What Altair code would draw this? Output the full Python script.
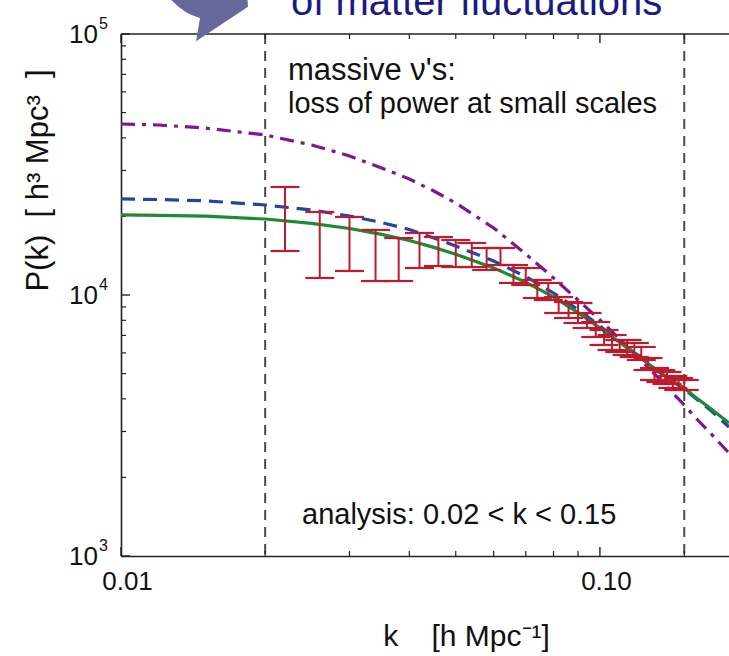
import altair as alt
import pandas as pd

# ---------------- data ----------------
k_model = [0.01, 0.012, 0.015, 0.02, 0.025, 0.03, 0.035, 0.04, 0.045, 0.05, 0.06, 0.07,
           0.08, 0.09, 0.1, 0.11, 0.12, 0.13, 0.14, 0.15, 0.16, 0.17, 0.186]
p_massless = [20260, 20170, 20040, 19550, 18820, 17980, 17070, 16170, 15220, 14330, 12700, 11190,
              9830, 8560, 7475, 6577, 5858, 5224, 4759, 4403, 3999, 3684, 3232]
p_dashed = [23330, 23220, 22960, 22120, 21170, 20080, 18960, 17820, 16530, 15410, 13500, 11770,
            10180, 8800, 7606, 6635, 5889, 5229, 4746, 4364, 3960, 3625, 3121]
p_dashdot = [45200, 44800, 43630, 41020, 37560, 34100, 30660, 27830, 25030, 22510, 18060, 14360,
             11620, 9567, 8022, 6782, 5787, 4982, 4325, 3789, 3319, 2960, 2481]

k_data = [0.022, 0.026, 0.030, 0.034, 0.038, 0.042, 0.046, 0.050, 0.054, 0.058, 0.062,
          0.066, 0.070, 0.074, 0.078, 0.082, 0.086, 0.090, 0.094, 0.098, 0.102, 0.106,
          0.110, 0.114, 0.118, 0.122, 0.126, 0.130, 0.134, 0.138, 0.142, 0.146, 0.150]
p_hi = [25930, 20800, 19910, 17750, 16530, 17280, 16680, 16240, 15820, 15140, 15140,
        13030, 12690, 11420, 11120, 9824, 9402, 9318, 8531, 7880, 7343, 7026,
        6723, 6723, 6548, 6322, 5735, 5252, 5159, 5070, 4895, 4808, 4725]
p_lo = [14740, 11620, 12360, 11310, 11310, 12690, 12910, 12800, 12800, 12470, 13030,
        11120, 10920, 9739, 9567, 8531, 8164, 7810, 7475, 6905, 6433, 6156,
        6048, 5889, 5787, 5636, 5159, 4725, 4642, 4560, 4403, 4325, 4325]

k_cuts = [0.02, 0.15]

x_major = [0.01, 0.1]
x_major_labels = ["0.01", "0.10"]
x_minor = [0.02, 0.03, 0.04, 0.05, 0.06, 0.07, 0.08, 0.09, 0.15]
y_major = [1000, 10000, 100000]
y_major_exp = ["3", "4", "5"]
y_minor = [2000, 3000, 4000, 5000, 6000, 7000, 8000, 9000,
           20000, 30000, 40000, 50000, 60000, 70000, 80000, 90000]

FONT = "Liberation Sans"
AX = "#222222"
TXT = "#111111"
NB = "\u00a0"

# ---------------- scales / encodings ----------------
xs = alt.Scale(type="log", domain=[0.01, 0.186], nice=False)
ys = alt.Scale(type="log", domain=[1000, 100000], nice=False)

x_axis = alt.Axis(values=x_major, labelExpr="datum.value < 0.05 ? '0.01' : '0.10'",
                  labelFontSize=26, labelFont=FONT, labelColor=TXT, labelOffset=6,
                  labelFlush=False, labelOverlap=False,
                  labelPadding=12, ticks=False, grid=False, domain=True, domainColor=AX,
                  domainWidth=1.6, title="k" + NB * 4 + "[h Mpc\u207b\u00b9]", titleFont=FONT,
                  titleFontSize=30, titleFontWeight="normal", titleColor=TXT,
                  titleX=345, titleY=89, titleAlign="center", titleBaseline="alphabetic")
y_axis = alt.Axis(values=y_major, labels=False, ticks=False, grid=False, domain=True,
                  domainColor=AX, domainWidth=1.6,
                  title="P(k)" + NB + " [" + NB + "h\u00b3" + NB + "Mpc\u00b3" + NB + NB + "]",
                  titleFont=FONT, titleFontSize=31,
                  titleFontWeight="normal", titleColor=TXT, titleAngle=270,
                  titleX=-83, titleY=146, titleAlign="center", titleBaseline="middle")


def X(f):
    return alt.X(f"{f}:Q", scale=xs, axis=x_axis)


def Y(f):
    return alt.Y(f"{f}:Q", scale=ys, axis=y_axis)


df_models = pd.DataFrame({"k": k_model, "m0": p_massless, "m1": p_dashed, "m2": p_dashdot})
df_data = pd.DataFrame({"k": k_data, "hi": p_hi, "lo": p_lo})
df_cuts = pd.DataFrame({"k": k_cuts})
df_ymaj = pd.DataFrame({"P": y_major, "e": y_major_exp})
df_ymin = pd.DataFrame({"P": y_minor})
df_xmaj = pd.DataFrame({"k": x_major})
df_xmin = pd.DataFrame({"k": x_minor})
one = df_cuts.head(1)

# ---------------- layers ----------------
cuts = alt.Chart(df_cuts).mark_rule(color="#4a4a4a", strokeWidth=2, strokeDash=[10, 7]).encode(
    x=X("k"), y=alt.value(0), y2=alt.value(522))

top_line = alt.Chart(one).mark_rule(color=AX, strokeWidth=1.6).encode(
    x=alt.value(0), x2=alt.value(608), y=alt.value(0))

ytick_min = alt.Chart(df_ymin).mark_rule(color=AX, strokeWidth=1.2).encode(
    y=Y("P"), x=alt.value(0), x2=alt.value(5))
ytick_maj = alt.Chart(df_ymaj).mark_rule(color=AX, strokeWidth=1.4).encode(
    y=Y("P"), x=alt.value(0), x2=alt.value(9))
xtick_min_b = alt.Chart(df_xmin).mark_rule(color=AX, strokeWidth=1.2).encode(
    x=X("k"), y=alt.value(522), y2=alt.value(517))
xtick_maj_b = alt.Chart(df_xmaj).mark_rule(color=AX, strokeWidth=1.4).encode(
    x=X("k"), y=alt.value(522), y2=alt.value(513))
xtick_min_t = alt.Chart(df_xmin).mark_rule(color=AX, strokeWidth=1.2).encode(
    x=X("k"), y=alt.value(0), y2=alt.value(5))
xtick_maj_t = alt.Chart(df_xmaj).mark_rule(color=AX, strokeWidth=1.4).encode(
    x=X("k"), y=alt.value(0), y2=alt.value(9))

ylab = alt.Chart(df_ymaj).mark_text(font=FONT, fontSize=26, color=TXT, align="right",
                                    baseline="middle", dy=1).encode(
    y=Y("P"), x=alt.value(-23), text=alt.value("10"))
yexp = alt.Chart(df_ymaj).mark_text(font=FONT, fontSize=16, color=TXT, align="left",
                                    baseline="middle", dy=-10).encode(
    y=Y("P"), x=alt.value(-22), text="e:N")

line_dd = alt.Chart(df_models).mark_line(color="#7b1a8c", strokeWidth=3.2,
                                         strokeDash=[14, 7, 4, 7], clip=True).encode(
    x=X("k"), y=Y("m2"))
line_d = alt.Chart(df_models).mark_line(color="#2545a5", strokeWidth=3.2,
                                        strokeDash=[14, 8], clip=True).encode(
    x=X("k"), y=Y("m1"))
line_s = alt.Chart(df_models).mark_line(color="#1f8a35", strokeWidth=3.2, clip=True).encode(
    x=X("k"), y=Y("m0"))

RED = "#bf1a2e"
err_v = alt.Chart(df_data).mark_rule(color=RED, strokeWidth=2).encode(
    x=X("k"), y=Y("hi"), y2="lo:Q")
cap_shape = "M-1,0L1,0"
cap_hi = alt.Chart(df_data).mark_point(shape=cap_shape, size=841, color=RED, strokeWidth=2.2,
                                       filled=False, opacity=1).encode(x=X("k"), y=Y("hi"))
cap_lo = alt.Chart(df_data).mark_point(shape=cap_shape, size=841, color=RED, strokeWidth=2.2,
                                       filled=False, opacity=1).encode(x=X("k"), y=Y("lo"))

ann1 = alt.Chart(one).mark_text(font=FONT, fontSize=31, color=TXT,
                                align="left", baseline="alphabetic").encode(
    x=alt.value(167), y=alt.value(46), text=alt.value("massive \u03bd's:"))
ann2 = alt.Chart(one).mark_text(font=FONT, fontSize=29, color=TXT,
                                align="left", baseline="alphabetic").encode(
    x=alt.value(167), y=alt.value(79), text=alt.value("loss of power at small scales"))
ann3 = alt.Chart(one).mark_text(font=FONT, fontSize=29, color=TXT,
                                align="left", baseline="alphabetic").encode(
    x=alt.value(181), y=alt.value(490), text=alt.value("analysis: 0.02 < k < 0.15"))

heading = alt.Chart(one).mark_text(font=FONT, fontSize=40, color="#1c1a80",
                                   align="left", baseline="alphabetic").encode(
    x=alt.value(170), y=alt.value(-19), text=alt.value("of matter fluctuations"))
arrow = alt.Chart(one).mark_point(
    shape="M-1.3,-1 Q-0.8,-0.2 -0.2,-0.05 L-0.3,0.53 L1,-0.33 L0.95,-1 Z",
    size=6400, color="#66679b", filled=True, opacity=1, strokeWidth=0).encode(
    x=alt.value(87), y=alt.value(-14))

chart = alt.layer(
    cuts, top_line, ytick_min, ytick_maj, xtick_min_b, xtick_maj_b, xtick_min_t, xtick_maj_t,
    line_dd, line_d, line_s, err_v, cap_hi, cap_lo, ylab, yexp, ann1, ann2, ann3,
    heading, arrow
).properties(
    width=608, height=522,
    autosize=alt.AutoSizeParams(type="none"),
    padding={"left": 121, "top": 34, "right": 0, "bottom": 100},
    background="white",
).configure_view(stroke=None)

chart.save("out.html", embed_options={"renderer": "svg", "actions": False})
